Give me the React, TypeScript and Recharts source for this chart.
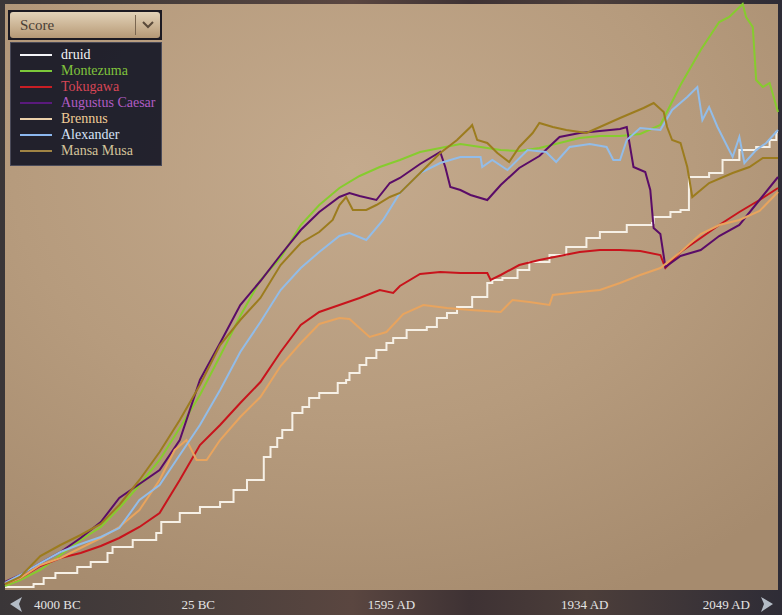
import { LineChart, Line, XAxis, YAxis, CartesianGrid } from "recharts";

// turn index (0..460) on x, score on y
const turnTicks = [0, 115, 230, 345, 460];
const tickLabels = ["4000 BC", "25 BC", "1595 AD", "1934 AD", "2049 AD"];

const druid = [
  [0, 15], [17, 30], [23, 60], [30, 85], [43, 115], [51, 140], [61, 185], [64, 215], [76, 250],
  [90, 285], [93, 340], [104, 385], [116, 415], [128, 440], [136, 500], [144, 550], [154, 665],
  [158, 715], [162, 760], [165, 800], [171, 885], [177, 915], [181, 960], [187, 985], [198, 1035],
  [203, 1050], [205, 1085], [211, 1125], [215, 1160], [221, 1200], [227, 1235], [231, 1260],
  [239, 1300], [251, 1315], [257, 1360], [263, 1385], [269, 1415], [278, 1465], [287, 1535],
  [290, 1550], [296, 1560], [305, 1600], [312, 1640], [324, 1675], [334, 1715], [346, 1760],
  [354, 1790], [370, 1825], [385, 1835], [386, 1865], [396, 1890], [402, 1900], [407, 2065],
  [419, 2085], [427, 2150], [437, 2200], [447, 2215], [455, 2250], [459, 2290], [460, 2290],
];

const montezuma = [
  [0, 20], [9, 50], [21, 100], [33, 175], [45, 250], [57, 315], [68, 410], [80, 525], [92, 650],
  [104, 810], [116, 975], [128, 1170], [140, 1370], [152, 1550], [164, 1660], [176, 1825],
  [187, 1925], [199, 2010], [211, 2070], [223, 2115], [235, 2150], [247, 2190], [259, 2210],
  [271, 2230], [283, 2215], [295, 2200], [306, 2195], [318, 2210], [330, 2235], [342, 2260],
  [354, 2270], [366, 2270], [378, 2280], [390, 2325], [402, 2525], [414, 2700], [425, 2840],
  [431, 2865], [439, 2930], [441, 2865], [445, 2815], [447, 2550], [451, 2515], [455, 2535],
  [460, 2390],
];

const tokugawa = [
  [0, 30], [9, 60], [21, 120], [33, 160], [45, 185], [57, 220], [68, 260], [80, 315], [92, 385],
  [104, 550], [116, 725], [128, 825], [140, 935], [152, 1040], [164, 1190], [176, 1325],
  [187, 1390], [199, 1425], [211, 1460], [223, 1500], [231, 1485], [235, 1520], [247, 1580],
  [259, 1590], [271, 1585], [287, 1585], [289, 1550], [295, 1575], [306, 1625], [318, 1650],
  [330, 1670], [342, 1690], [354, 1700], [366, 1700], [378, 1695], [390, 1675], [393, 1610],
  [402, 1690], [414, 1760], [425, 1825], [437, 1890], [449, 1950], [460, 2010],
];

const augustus = [
  [0, 40], [9, 75], [21, 135], [33, 190], [45, 260], [57, 340], [68, 460], [80, 530], [92, 600],
  [104, 750], [116, 1050], [128, 1235], [140, 1425], [152, 1545], [164, 1675], [176, 1800],
  [187, 1890], [199, 1965], [205, 1985], [211, 1970], [221, 1950], [229, 2035], [235, 2060],
  [247, 2130], [259, 2190], [262, 2115], [265, 2015], [271, 2000], [277, 1975], [287, 1950],
  [295, 2025], [306, 2110], [318, 2170], [330, 2265], [342, 2285], [354, 2295], [366, 2305],
  [370, 2315], [374, 2115], [381, 2090], [384, 2000], [386, 1810], [390, 1780], [393, 1615],
  [402, 1670], [414, 1700], [425, 1770], [437, 1825], [449, 1950], [460, 2065],
];

const brennus = [
  [0, 30], [9, 60], [21, 125], [33, 160], [45, 210], [57, 260], [68, 315], [80, 400], [92, 550],
  [101, 700], [108, 750], [114, 650], [120, 650], [128, 750], [140, 865], [152, 965], [164, 1120],
  [176, 1235], [187, 1330], [199, 1360], [205, 1355], [211, 1310], [217, 1265], [227, 1290],
  [237, 1380], [249, 1425], [263, 1410], [277, 1400], [295, 1390], [302, 1450], [312, 1440],
  [324, 1425], [326, 1475], [342, 1490], [354, 1500], [366, 1535], [378, 1575], [390, 1610],
  [402, 1690], [414, 1780], [425, 1825], [437, 1850], [449, 1895], [460, 1990],
];

const alexander = [
  [0, 35], [9, 75], [21, 135], [33, 190], [45, 230], [57, 265], [68, 310], [80, 450], [92, 525],
  [104, 675], [116, 825], [128, 1000], [140, 1190], [152, 1340], [164, 1500], [176, 1610],
  [187, 1690], [199, 1770], [205, 1785], [215, 1750], [225, 1850], [235, 1985], [247, 2085],
  [259, 2135], [271, 2165], [283, 2165], [284, 2115], [290, 2150], [299, 2100], [311, 2200],
  [322, 2190], [328, 2140], [336, 2215], [348, 2230], [358, 2215], [362, 2150], [366, 2150],
  [370, 2250], [378, 2310], [390, 2300], [397, 2400], [406, 2465], [412, 2515], [415, 2350],
  [419, 2415], [424, 2315], [433, 2165], [437, 2265], [440, 2135], [447, 2200], [453, 2235],
  [460, 2300],
];

const mansaMusa = [
  [0, 30], [9, 65], [21, 170], [33, 225], [45, 275], [57, 330], [68, 425], [80, 550], [92, 690],
  [104, 850], [116, 1025], [128, 1225], [140, 1350], [152, 1460], [164, 1625], [176, 1735],
  [187, 1790], [195, 1850], [199, 1925], [203, 1965], [207, 1900], [215, 1900], [221, 1925],
  [229, 1965], [235, 1985], [247, 2085], [259, 2185], [269, 2250], [277, 2315], [278, 2325],
  [281, 2250], [287, 2235], [293, 2185], [300, 2140], [306, 2215], [314, 2285], [318, 2335],
  [326, 2315], [334, 2300], [346, 2285], [354, 2315], [366, 2360], [380, 2410], [386, 2435],
  [392, 2390], [394, 2315], [397, 2250], [402, 2235], [406, 2115], [409, 1965], [419, 2035],
  [433, 2085], [443, 2115], [451, 2160], [460, 2160],
];

const toRows = (pts: number[][]) => pts.map(([turn, score]) => ({ turn, score }));

const players = [
  { name: "druid", stroke: "#f6f0e6", swatch: "#f4f4f8", label: "#f4f4f4", data: druid, step: true },
  { name: "Montezuma", stroke: "#86cc2e", swatch: "#7cc83a", label: "#80c43c", data: montezuma },
  { name: "Tokugawa", stroke: "#c8141c", swatch: "#c81e24", label: "#d84656", data: tokugawa },
  { name: "Augustus Caesar", stroke: "#5a0c68", swatch: "#5a1a7c", label: "#b05cc4", data: augustus },
  { name: "Brennus", stroke: "#e8a45e", swatch: "#ead0aa", label: "#f0cc96", data: brennus },
  { name: "Alexander", stroke: "#92bce8", swatch: "#8cb8f0", label: "#d6e2f6", data: alexander },
  { name: "Mansa Musa", stroke: "#9c7c1e", swatch: "#a08444", label: "#d4c49a", data: mansaMusa },
];

const serif = "'Liberation Serif', 'DejaVu Serif', serif";

function YearTick({ x, y, payload }: any) {
  const i = turnTicks.indexOf(payload.value);
  const last = turnTicks.length - 1;
  const anchor = i === 0 ? "start" : i === last ? "end" : "middle";
  const dx = i === 0 ? 29 : i === last ? -28 : 0;
  return (
    <text x={x + dx} y={y} dy={11} textAnchor={anchor} fill="#e4e4e4" fontFamily={serif} fontSize={13}>
      {tickLabels[i]}
    </text>
  );
}

export default function App() {
  return (
    <div
      style={{
        position: "absolute",
        left: 0,
        top: 0,
        width: 782,
        height: 615,
        overflow: "hidden",
        background:
          "linear-gradient(90deg, #3a3638 0%, #4a3f3c 25%, #5a4640 45%, #3e3234 60%, #4c3e3a 75%, #2e2c36 100%)",
      }}
    >
      <LineChart width={782} height={615} data={[]} margin={{ top: 4, right: 4, left: 5, bottom: 0 }}>
        <defs>
          <radialGradient id="parchment" cx="45%" cy="28%" r="80%">
            <stop offset="0%" stopColor="#c4aa8d" />
            <stop offset="55%" stopColor="#b69b7d" />
            <stop offset="100%" stopColor="#a68b6e" />
          </radialGradient>
        </defs>
        <CartesianGrid fill="url(#parchment)" stroke="none" horizontal={false} vertical={false} />
        <XAxis
          type="number"
          dataKey="turn"
          domain={[0, 460]}
          ticks={turnTicks}
          interval={0}
          height={25}
          axisLine={false}
          tickLine={false}
          tick={<YearTick />}
        />
        <YAxis hide type="number" domain={[0, 2930]} />
        {players.map((p) => (
          <Line
            key={p.name}
            data={toRows(p.data)}
            dataKey="score"
            type={p.step ? "stepAfter" : "linear"}
            stroke={p.stroke}
            strokeWidth={2}
            dot={false}
            activeDot={false}
            isAnimationActive={false}
          />
        ))}
      </LineChart>

      {/* score selector */}
      <div
        style={{
          position: "absolute",
          left: 8,
          top: 10,
          width: 154,
          height: 30,
          background: "#1c1a22",
          padding: 2,
          boxSizing: "border-box",
        }}
      >
        <div
          style={{
            position: "relative",
            width: "100%",
            height: "100%",
            borderRadius: 3,
            background: "linear-gradient(180deg, #e2d2b8 0%, #c8b090 60%, #b49876 100%)",
            fontFamily: serif,
            fontSize: 15,
            color: "#4a4036",
            lineHeight: "26px",
            paddingLeft: 10,
            boxSizing: "border-box",
          }}
        >
          Score
          <div style={{ position: "absolute", left: 125, top: 3, width: 1, height: 20, background: "#7a6650" }} />
          <svg style={{ position: "absolute", left: 132, top: 9 }} width={12} height={8}>
            <polyline points="1,1 6,6 11,1" fill="none" stroke="#5a4a3a" strokeWidth={2} />
          </svg>
        </div>
      </div>

      {/* legend */}
      <div
        style={{
          position: "absolute",
          left: 10,
          top: 42,
          width: 152,
          height: 124,
          boxSizing: "border-box",
          background: "rgba(18, 20, 36, 0.9)",
          border: "1px solid #4a4a58",
          paddingTop: 4,
        }}
      >
        {players.map((p) => (
          <div key={p.name} style={{ display: "flex", alignItems: "center", height: 16 }}>
            <div style={{ marginLeft: 9, width: 32, height: 2, background: p.swatch }} />
            <span style={{ marginLeft: 9, fontFamily: serif, fontSize: 14, color: p.label, whiteSpace: "nowrap" }}>
              {p.name}
            </span>
          </div>
        ))}
      </div>

      {/* scroll arrows */}
      <svg style={{ position: "absolute", left: 8, top: 596 }} width={16} height={17}>
        <polygon points="2,8 14,1 11,8 14,16" fill="#b4bcc6" />
      </svg>
      <svg style={{ position: "absolute", left: 759, top: 596 }} width={16} height={17}>
        <polygon points="14,8 2,1 5,8 2,16" fill="#b4bcc6" />
      </svg>
    </div>
  );
}
